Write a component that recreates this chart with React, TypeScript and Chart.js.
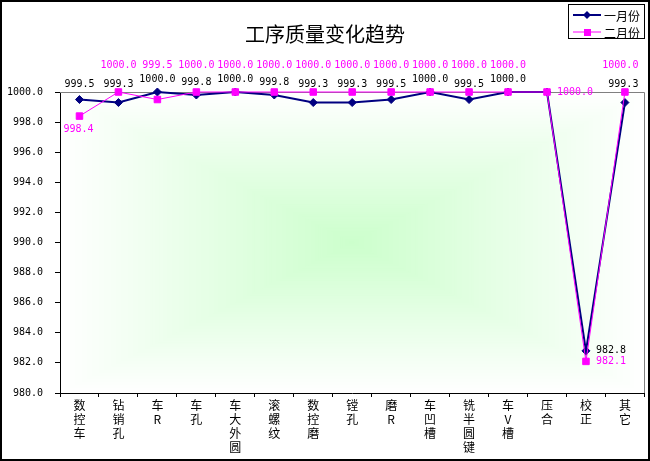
import React, { useEffect, useRef } from 'react';
import { Chart, registerables } from 'chart.js';

Chart.register(...registerables);

const chartTitle = '工序质量变化趋势';
const categories = [
  ['数', '控', '车'],
  ['钻', '销', '孔'],
  ['车', 'R'],
  ['车', '孔'],
  ['车', '大', '外', '圆'],
  ['滚', '螺', '纹'],
  ['数', '控', '磨'],
  ['镗', '孔'],
  ['磨', 'R'],
  ['车', '凹', '槽'],
  ['铣', '半', '圆', '键'],
  ['车', 'V', '槽'],
  ['压', '合'],
  ['校', '正'],
  ['其', '它'],
];
const seriesNames = ['一月份', '二月份'];
const janValues = [999.5, 999.3, 1000.0, 999.8, 1000.0, 999.8, 999.3, 999.3, 999.5, 1000.0, 999.5, 1000.0, 1000.0, 982.8, 999.3];
const febValues = [998.4, 1000.0, 999.5, 1000.0, 1000.0, 1000.0, 1000.0, 1000.0, 1000.0, 1000.0, 1000.0, 1000.0, 1000.0, 982.1, 1000.0];
const yTickValues = [980, 982, 984, 986, 988, 990, 992, 994, 996, 998, 1000];

// label placement (style only)
const janLabelPos = ['above', 'above', 'above', 'above', 'above', 'above', 'above', 'above', 'above', 'above', 'above', 'above', 'none', 'right', 'above'];
const febLabelPos = ['below', 'above', 'above', 'above', 'above', 'above', 'above', 'above', 'above', 'above', 'above', 'above', 'right', 'right', 'above'];

const NAVY = '#000080';
const MAGENTA = '#ff00ff';
const MONO = "10px 'DejaVu Sans Mono'";
const CJK = "'Noto Sans CJK SC'";

const bgPlugin = {
  id: 'bg',
  beforeDraw(chart: any) {
    const { ctx, chartArea: a, width, height } = chart;
    ctx.save();
    ctx.fillStyle = '#ffffff';
    ctx.fillRect(0, 0, width, height);
    const cx = (a.left + a.right) / 2;
    const cy = (a.top + a.bottom) / 2;
    const hw = (a.right - a.left) / 2;
    const hh = (a.bottom - a.top) / 2;
    const N = 120;
    for (let i = N; i >= 1; i--) {
      const t = i / N;
      const g = Math.round(204 + (255 - 204) * t);
      ctx.fillStyle = `rgb(${g},255,${g})`;
      ctx.fillRect(cx - hw * t, cy - hh * t, hw * 2 * t, hh * 2 * t);
    }
    ctx.restore();
  },
  beforeDatasetsDraw(chart: any) {
    const { ctx, chartArea: a } = chart;
    ctx.save();
    ctx.strokeStyle = '#808080';
    ctx.lineWidth = 1;
    ctx.beginPath();
    ctx.moveTo(a.left, Math.round(a.top) + 0.5);
    ctx.lineTo(Math.round(a.right) + 0.5, Math.round(a.top) + 0.5);
    ctx.lineTo(Math.round(a.right) + 0.5, a.bottom);
    ctx.stroke();
    ctx.restore();
  },
};

const labelPlugin = {
  id: 'valueLabels',
  afterDatasetsDraw(chart: any) {
    const { ctx, chartArea: a } = chart;
    ctx.save();
    ctx.font = MONO;
    ctx.textBaseline = 'middle';
    chart.data.datasets.forEach((ds: any, di: number) => {
      const meta = chart.getDatasetMeta(di);
      const pos = di === 0 ? janLabelPos : febLabelPos;
      ctx.fillStyle = di === 0 ? '#000000' : MAGENTA;
      meta.data.forEach((pt: any, i: number) => {
        const p = pos[i];
        if (p === 'none') return;
        const text = (ds.data[i] as number).toFixed(1);
        const w = ctx.measureText(text).width;
        let x = pt.x;
        let y = pt.y;
        ctx.textAlign = 'center';
        if (p === 'above') {
          y = di === 0 ? Math.min(pt.y - 13, a.top - 8) : a.top - 27;
          if (x + w / 2 > a.right - 6) x = a.right - 6 - w / 2;
        } else if (p === 'below') {
          y = pt.y + 13;
          x = pt.x - 1;
        } else if (p === 'right') {
          ctx.textAlign = 'left';
          x = pt.x + 10;
        }
        ctx.fillText(text, x, y);
      });
    });
    ctx.restore();
  },
};

const decorPlugin = {
  id: 'decor',
  afterDraw(chart: any) {
    const { ctx, width, height } = chart;
    ctx.save();
    // title
    ctx.fillStyle = '#000';
    ctx.font = `20px ${CJK}`;
    ctx.textAlign = 'center';
    ctx.textBaseline = 'middle';
    ctx.fillText(chartTitle, 325, 34);
    // legend
    const lx = 568.5, ly = 4.5, lw = 76, lh = 34;
    ctx.fillStyle = '#fff';
    ctx.fillRect(lx, ly, lw, lh);
    ctx.strokeStyle = '#000';
    ctx.lineWidth = 1;
    ctx.strokeRect(lx, ly, lw, lh);
    const entries = [
      { name: seriesNames[0], color: NAVY, style: 'diamond', y: 15, lwid: 2 },
      { name: seriesNames[1], color: MAGENTA, style: 'square', y: 32, lwid: 1 },
    ];
    entries.forEach((e) => {
      ctx.strokeStyle = e.color;
      ctx.lineWidth = e.lwid;
      ctx.beginPath();
      ctx.moveTo(573, e.y);
      ctx.lineTo(601, e.y);
      ctx.stroke();
      ctx.fillStyle = e.color;
      ctx.beginPath();
      if (e.style === 'diamond') {
        ctx.moveTo(587, e.y - 4);
        ctx.lineTo(591, e.y);
        ctx.lineTo(587, e.y + 4);
        ctx.lineTo(583, e.y);
        ctx.closePath();
      } else {
        ctx.rect(584, e.y - 3, 7, 7);
      }
      ctx.fill();
      ctx.fillStyle = '#000';
      ctx.font = `12px ${CJK}`;
      ctx.textAlign = 'left';
      ctx.textBaseline = 'middle';
      ctx.fillText(e.name, 604, e.y + 1);
    });
    // outer border
    ctx.strokeStyle = '#000';
    ctx.lineWidth = 2;
    ctx.strokeRect(1, 1, width - 2, height - 2);
    ctx.restore();
  },
};

export default function App() {
  const ref = useRef<HTMLCanvasElement>(null);
  useEffect(() => {
    document.body.style.margin = '0';
    const canvas = ref.current!;
    const chart = new Chart(canvas, {
      type: 'line',
      data: {
        labels: categories as any,
        datasets: [
          {
            label: seriesNames[0],
            data: janValues,
            borderColor: NAVY,
            backgroundColor: NAVY,
            borderWidth: 2,
            pointStyle: 'rectRot',
            pointRadius: 4,
            pointBorderWidth: 1,
            pointBorderColor: NAVY,
            pointBackgroundColor: NAVY,
            order: 2,
            clip: false as any,
            tension: 0,
          },
          {
            label: seriesNames[1],
            data: febValues,
            borderColor: MAGENTA,
            backgroundColor: MAGENTA,
            borderWidth: 1,
            pointStyle: 'rect',
            pointRadius: 4.6,
            pointBorderWidth: 1,
            pointBorderColor: MAGENTA,
            pointBackgroundColor: MAGENTA,
            order: 1,
            clip: false as any,
            tension: 0,
          },
        ],
      },
      options: {
        animation: false,
        responsive: false,
        devicePixelRatio: 1,
        layout: { padding: { top: 92, right: 5, left: 0, bottom: 0 } },
        plugins: {
          legend: { display: false },
          title: { display: false },
          tooltip: { enabled: false },
        },
        scales: {
          x: {
            type: 'category',
            offset: true,
            grid: { offset: true, drawOnChartArea: false, drawTicks: true, tickLength: 4, color: '#000' },
            border: { display: true, color: '#000', width: 1 },
            ticks: {
              autoSkip: false,
              maxRotation: 0,
              minRotation: 0,
              padding: 2,
              color: '#000',
              font: { family: CJK, size: 12, lineHeight: 1.15 },
            },
            afterFit(scale: any) {
              scale.height = 68;
            },
          },
          y: {
            min: 980,
            max: 1000,
            grid: { drawOnChartArea: false, drawTicks: true, tickLength: 5, color: '#000' },
            border: { display: true, color: '#000', width: 1 },
            afterBuildTicks(scale: any) {
              scale.ticks = yTickValues.map((v) => ({ value: v }));
            },
            ticks: {
              padding: 12,
              color: '#000',
              font: { family: 'DejaVu Sans Mono', size: 10 },
              callback: (v: any) => Number(v).toFixed(1),
            },
            afterFit(scale: any) {
              scale.width = 60;
            },
          },
        },
      },
      plugins: [bgPlugin, labelPlugin, decorPlugin],
    });
    return () => chart.destroy();
  }, []);
  return (
    <div style={{ position: 'absolute', left: 0, top: 0, width: 650, height: 461 }}>
      <canvas ref={ref} width={650} height={461} style={{ width: 650, height: 461, display: 'block' }} />
    </div>
  );
}
